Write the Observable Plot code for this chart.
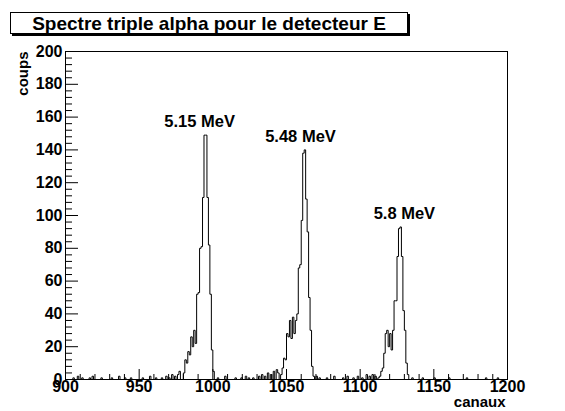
<!DOCTYPE html>
<html><head><meta charset="utf-8">
<script src="https://cdn.jsdelivr.net/npm/d3@7"></script>
<script src="https://cdn.jsdelivr.net/npm/@observablehq/plot@0.6"></script>
<style>
body{margin:0;background:#fff;}
#wrap{position:relative;width:565px;height:411px;}
#title{position:absolute;left:10px;top:12px;width:396px;height:20px;border:1px solid #000;box-shadow:2px 2px 0 #000;background:#fff;font:bold 19px "Liberation Sans",Arial,sans-serif;text-align:center;line-height:21px;white-space:nowrap;}
svg{display:block;}
</style></head><body><div id="wrap"></div>
<script>
// ---- data ----
const titleText = "Spectre triple alpha pour le detecteur E";
const xLabel = "canaux";
const yLabel = "coups";
const channelDomain = [900, 1200];
const countDomain = [0, 200];
const xMajorTicks = [900, 950, 1000, 1050, 1100, 1150, 1200];
const yMajorTicks = [0, 20, 40, 60, 80, 100, 120, 140, 160, 180, 200];

const peak1Start = 980;
const peak1Counts = [4, 12, 10, 17, 15, 26, 20, 30, 22, 52, 53, 80, 81, 111, 149, 149, 111, 82, 52, 18, 5];
const peak2Start = 1046;
const peak2Counts = [3, 7, 13, 12, 28, 26, 36, 25, 38, 28, 36, 40, 68, 70, 97, 138, 140, 110, 90, 50, 30, 8, 2];
const peak3Start = 1112;
const peak3Counts = [1, 2, 5, 7, 16, 28, 30, 20, 28, 18, 30, 48, 48, 75, 92, 93, 75, 42, 30, 10, 3];

const noiseChannels = [905, 908, 911, 916, 918, 924, 931, 936, 940, 944, 952, 957, 961, 965, 968, 970, 972, 974, 976, 977,
  1003, 1008, 1015, 1019, 1022, 1024, 1027, 1031, 1033, 1035, 1037, 1039, 1041, 1043, 1044,
  1070, 1072, 1077, 1082, 1088, 1091, 1095, 1098, 1101, 1104, 1106, 1108, 1110,
  1135, 1142, 1150, 1160, 1172, 1185, 1193];
const noiseCounts = [1, 2, 1, 1, 2, 1, 1, 2, 1, 1, 1, 2, 1, 1, 2, 1, 3, 2, 3, 5,
  1, 2, 1, 1, 2, 1, 1, 2, 3, 2, 4, 3, 5, 6, 4,
  2, 1, 1, 2, 1, 2, 1, 2, 1, 3, 2, 3, 2,
  1, 1, 1, 1, 1, 1, 1];

const peakLabels = ["5.15 MeV", "5.48 MeV", "5.8 MeV"];
const peakLabelChannels = [991, 1059.5, 1130];
const peakLabelCounts = [154, 145, 98];

// ---- build histogram ----
const nBins = channelDomain[1] - channelDomain[0];
const counts = new Array(nBins).fill(0);
noiseChannels.forEach((c, i) => { counts[c - channelDomain[0]] = noiseCounts[i]; });
[[peak1Start, peak1Counts], [peak2Start, peak2Counts], [peak3Start, peak3Counts]].forEach(([s, arr]) => {
  arr.forEach((v, i) => { counts[s + i - channelDomain[0]] = v; });
});
const steps = counts.map((v, i) => ({ch: channelDomain[0] + i, n: v}));
steps.push({ch: channelDomain[1], n: counts[nBins - 1]});

const xMinorTicks = d3.range(channelDomain[0], channelDomain[1] + 1, 10).filter(d => !xMajorTicks.includes(d));
const yMinorTicks = d3.range(countDomain[0], countDomain[1] + 1, 4).filter(d => !yMajorTicks.includes(d));
const labels = peakLabels.map((t, i) => ({t, ch: peakLabelChannels[i], n: peakLabelCounts[i]}));

const W = 565, H = 411, mL = 65, mR = 58, mT = 51, mB = 32;
const plotW = W - mL - mR, plotH = H - mT - mB;
const font = "'Liberation Sans', Arial, Helvetica, sans-serif";

const chart = Plot.plot({
  width: W, height: H,
  marginLeft: mL, marginRight: mR, marginTop: mT, marginBottom: mB,
  style: {fontFamily: font, fontWeight: "bold", fontSize: "16px", background: "#fff", color: "#000", overflow: "visible"},
  x: {domain: channelDomain},
  y: {domain: countDomain},
  marks: [
    Plot.line(steps, {x: "ch", y: "n", curve: "step-after", stroke: "#000", strokeWidth: 1}),
    Plot.ruleY([0], {stroke: "#e00000", strokeWidth: 1}),
    Plot.tickY(yMajorTicks, {y: d => d, stroke: "#000", insetRight: plotW - 13}),
    Plot.tickY(yMinorTicks, {y: d => d, stroke: "#000", insetRight: plotW - 7}),
    Plot.tickX(xMajorTicks, {x: d => d, stroke: "#000", insetTop: plotH - 10}),
    Plot.tickX(xMinorTicks, {x: d => d, stroke: "#000", insetTop: plotH - 5}),
    Plot.frame({stroke: "#000"}),
    Plot.axisY({ticks: yMajorTicks, tickSize: 0, tickPadding: 3, label: null, fontSize: 16, fontWeight: "bold"}),
    Plot.axisX({ticks: xMajorTicks, tickSize: 0, tickPadding: 1, label: null, tickFormat: d => String(d), fontSize: 16, fontWeight: "bold"}),
    Plot.text(labels, {x: "ch", y: "n", text: "t", lineAnchor: "bottom", fontSize: 16.5, fontWeight: "bold"}),
    Plot.text([yLabel], {frameAnchor: "top-left", rotate: -90, textAnchor: "end", lineAnchor: "bottom", dx: -38, dy: 0, fontSize: 15, fontWeight: "bold"}),
    Plot.text([xLabel], {frameAnchor: "bottom-right", textAnchor: "end", lineAnchor: "bottom", dx: -2, dy: 27, fontSize: 15, fontWeight: "bold"})
  ]
});
const wrap = document.getElementById("wrap");
wrap.appendChild(chart);
const title = document.createElement("div");
title.id = "title";
title.textContent = titleText;
wrap.appendChild(title);
</script>
</body></html>
